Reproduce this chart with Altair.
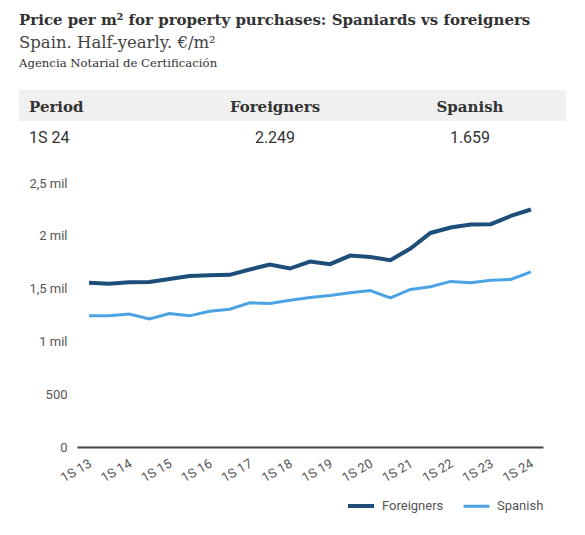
import altair as alt
import pandas as pd

# ---- data ----
periods = [f"{h}S {y}" for y in range(13, 25) for h in (1, 2)][:-1]
foreigners = [1555, 1545, 1560, 1563, 1590, 1620, 1627, 1630, 1681, 1728, 1690, 1756,
              1731, 1813, 1800, 1769, 1879, 2027, 2078, 2107, 2110, 2188, 2249]
spanish = [1242, 1242, 1260, 1212, 1264, 1242, 1286, 1305, 1365, 1360, 1390, 1415,
           1435, 1460, 1482, 1412, 1492, 1517, 1568, 1555, 1580, 1587, 1659]
series = ["Foreigners", "Spanish"]
colors = ["#1d4e79", "#4ba3e3"]
tick_labels = [p for p in periods if p.startswith("1S")]
y_ticks = [0, 500, 1000, 1500, 2000, 2500]

title_text = "Price per m\u00b2 for property purchases: Spaniards vs foreigners"
subtitle_text = "Spain. Half-yearly. \u20ac/m\u00b2"
source_text = "Agencia Notarial de Certificaci\u00f3n"
table_headers = ["Period", "Foreigners", "Spanish"]

def fmt(v):
    return f"{v:,}".replace(",", ".")

table_values = [periods[-1], fmt(foreigners[-1]), fmt(spanish[-1])]

df = pd.DataFrame({
    "period": periods * 2,
    "value": foreigners + spanish,
    "series": [series[0]] * len(periods) + [series[1]] * len(periods),
})

W, H = 466, 264
SERIF = "DejaVu Serif"
SANS = "Roboto"

lines = alt.Chart(df).mark_line().encode(
    x=alt.X("period:O", sort=periods, title=None,
            scale=alt.Scale(type="point", padding=0.6),
            axis=alt.Axis(values=tick_labels, labelAngle=-30, labelAlign="right",
                          labelBaseline="top", labelPadding=10, labelOffset=-2,
                          ticks=False,
                          domain=True, domainColor="#444", domainWidth=2,
                          labelFont=SANS, labelFontSize=13, labelColor="#555",
                          grid=False)),
    y=alt.Y("value:Q", title=None,
            scale=alt.Scale(domain=[0, 2500], nice=False),
            axis=alt.Axis(values=y_ticks, ticks=False, domain=False, grid=False,
                          labelFont=SANS, labelFontSize=13, labelColor="#555",
                          labelPadding=10,
                          labelExpr="datum.value == 0 ? '0' : datum.value < 1000 ? format(datum.value, 'd') : replace(format(datum.value / 1000, '.2~f'), '.', ',') + ' mil'")),
    color=alt.Color("series:N", sort=series,
                    scale=alt.Scale(domain=series, range=colors),
                    legend=alt.Legend(title=None, orient="none", direction="horizontal",
                                      legendX=269, legendY=308,
                                      symbolType="stroke", symbolSize=676,
                                      symbolStrokeWidth=4, labelOffset=6,
                                      columnPadding=13, labelFont=SANS,
                                      labelFontSize=13, labelColor="#555")),
    strokeWidth=alt.StrokeWidth("series:N",
                                scale=alt.Scale(domain=series, range=[4, 3]),
                                legend=None),
)

def text_layer(txt, x, y, font, size, weight="normal", align="left", color="#333"):
    return alt.Chart(pd.DataFrame({"t": [txt]})).mark_text(
        font=font, fontSize=size, fontWeight=weight, align=align,
        baseline="alphabetic", color=color,
    ).encode(text="t:N", x=alt.value(x), y=alt.value(y))

header_rect = alt.Chart(pd.DataFrame({"t": [""]})).mark_rect(color="#f0f0f0").encode(
    x=alt.value(-58), x2=alt.value(489), y=alt.value(-93), y2=alt.value(-62)
)

layers = [
    header_rect,
    text_layer(title_text, -58, -158, SERIF, 15, "bold"),
    text_layer(subtitle_text, -58, -135, SERIF, 16.5, "normal", color="#444"),
    text_layer(source_text, -58, -116, SERIF, 11.7, "normal", color="#333"),
    text_layer(table_headers[0], -48, -71, SERIF, 15, "bold"),
    text_layer(table_headers[1], 198, -71, SERIF, 15, "bold", align="center"),
    text_layer(table_headers[2], 393, -71, SERIF, 15, "bold", align="center"),
    text_layer(table_values[0], -48, -40, SANS, 16, "normal"),
    text_layer(table_values[1], 198, -40, SANS, 16, "normal", align="center"),
    text_layer(table_values[2], 393, -40, SANS, 16, "normal", align="center"),
    lines,
]

chart = alt.layer(*layers).properties(
    width=W, height=H,
    autosize=alt.AutoSizeParams(type="none"),
    padding={"left": 69, "top": 175, "right": 30, "bottom": 70},
    background="white",
).configure_view(stroke=None)

chart.save("out.html", embed_options={"renderer": "svg", "actions": False})
